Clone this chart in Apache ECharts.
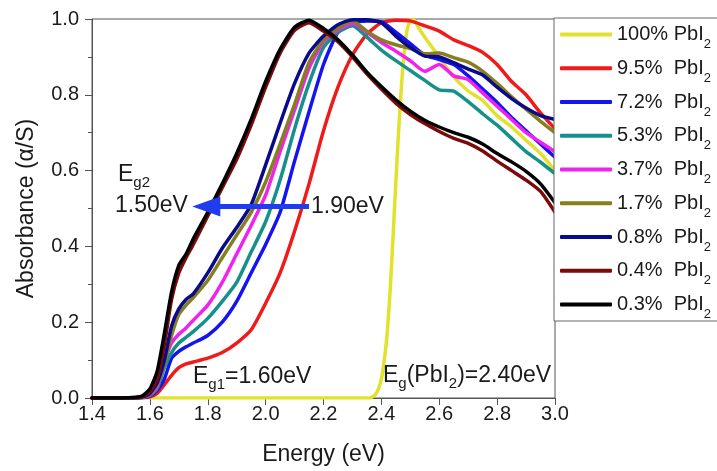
<!DOCTYPE html>
<html lang="en">

<head>
    <meta charset="UTF-8">
    <title>Absorbance vs Energy</title>
    <script src="https://cdn.jsdelivr.net/npm/echarts@6.0.0/dist/echarts.min.js"></script>
    <style>
        body { margin: 0; background: #fff; }
        #container { width: 717px; height: 471px; }
    </style>
</head>

<body>
    <div id="container"></div>
    <script type="text/javascript">
        // energy grid (eV) shared by the perovskite curves
        var energy = [1.40, 1.50, 1.55, 1.575, 1.60, 1.625, 1.65, 1.675, 1.70, 1.725, 1.75, 1.80, 1.85, 1.90, 1.95, 2.00, 2.05, 2.10, 2.15, 2.20,
            2.25, 2.30, 2.35, 2.40, 2.45, 2.50, 2.55, 2.60, 2.65, 2.70, 2.75, 2.80, 2.85, 2.90, 2.95, 3.00];

        var red95 = [0, 0, 0, 0.001, 0.003, 0.012, 0.035, 0.06, 0.08, 0.09, 0.095, 0.105, 0.12, 0.145, 0.18, 0.25, 0.33, 0.44, 0.565, 0.705,
            0.82, 0.905, 0.96, 0.99, 0.997, 0.995, 0.982, 0.968, 0.945, 0.93, 0.912, 0.88, 0.835, 0.8, 0.752, 0.71];
        var blue72 = [0, 0, 0, 0.001, 0.005, 0.02, 0.05, 0.105, 0.123, 0.135, 0.145, 0.165, 0.2, 0.255, 0.33, 0.405, 0.49, 0.625, 0.755, 0.88,
            0.965, 0.99, 0.995, 0.993, 0.965, 0.935, 0.905, 0.893, 0.88, 0.85, 0.815, 0.78, 0.74, 0.705, 0.67, 0.635];
        var teal53 = [0, 0, 0, 0.002, 0.007, 0.025, 0.08, 0.12, 0.145, 0.16, 0.175, 0.21, 0.255, 0.305, 0.385, 0.465, 0.575, 0.71, 0.83, 0.925,
            0.965, 0.982, 0.952, 0.918, 0.89, 0.864, 0.838, 0.813, 0.81, 0.782, 0.75, 0.72, 0.685, 0.65, 0.622, 0.592];
        var magenta37 = [0, 0, 0, 0.002, 0.008, 0.03, 0.095, 0.145, 0.168, 0.185, 0.205, 0.245, 0.305, 0.38, 0.455, 0.535, 0.65, 0.76, 0.87, 0.94,
            0.97, 0.988, 0.965, 0.938, 0.915, 0.89, 0.862, 0.88, 0.85, 0.84, 0.805, 0.77, 0.735, 0.70, 0.675, 0.65];
        var olive17 = [0, 0, 0, 0.002, 0.01, 0.035, 0.09, 0.165, 0.22, 0.245, 0.265, 0.31, 0.37, 0.43, 0.49, 0.57, 0.67, 0.775, 0.885, 0.945,
            0.975, 0.995, 0.968, 0.945, 0.932, 0.922, 0.908, 0.91, 0.898, 0.886, 0.862, 0.83, 0.795, 0.762, 0.73, 0.70];
        var navy08 = [0, 0, 0, 0.003, 0.012, 0.04, 0.1, 0.19, 0.235, 0.26, 0.275, 0.33, 0.395, 0.45, 0.51, 0.615, 0.725, 0.83, 0.91, 0.955,
            0.985, 0.998, 0.998, 0.99, 0.955, 0.925, 0.902, 0.9, 0.885, 0.868, 0.852, 0.82, 0.79, 0.765, 0.745, 0.735];
        var darkred04 = [0, 0, 0.001, 0.004, 0.016, 0.05, 0.14, 0.26, 0.33, 0.37, 0.405, 0.48, 0.555, 0.63, 0.72, 0.82, 0.91, 0.97, 0.99, 0.968,
            0.94, 0.9, 0.855, 0.815, 0.778, 0.748, 0.724, 0.703, 0.685, 0.672, 0.652, 0.625, 0.6, 0.575, 0.545, 0.49];
        var black03 = [0, 0, 0.002, 0.006, 0.024, 0.07, 0.17, 0.28, 0.35, 0.38, 0.42, 0.49, 0.565, 0.645, 0.735, 0.835, 0.92, 0.978, 0.997, 0.975,
            0.945, 0.905, 0.86, 0.822, 0.787, 0.757, 0.733, 0.715, 0.70, 0.688, 0.67, 0.645, 0.623, 0.598, 0.565, 0.515];

        // pure PbI2 has its own, finer grid around the band edge
        var pbi2Energy = [1.40, 2.30, 2.36, 2.38, 2.39, 2.40, 2.41, 2.42, 2.43, 2.44, 2.45, 2.46, 2.47, 2.48, 2.49, 2.50, 2.51, 2.53, 2.55,
            2.60, 2.65, 2.70, 2.75, 2.80, 2.85, 2.90, 2.95, 3.00];
        var pbi2Abs = [0, 0, 0, 0.01, 0.025, 0.05, 0.1, 0.17, 0.28, 0.42, 0.57, 0.71, 0.83, 0.92, 0.975, 0.995, 1.0, 0.975, 0.952,
            0.9, 0.847, 0.81, 0.785, 0.745, 0.715, 0.68, 0.645, 0.6];

        var seriesNames = ['100% PbI2', '9.5%  PbI2', '7.2%  PbI2', '5.3%  PbI2', '3.7%  PbI2', '1.7%  PbI2', '0.8%  PbI2', '0.4%  PbI2', '0.3%  PbI2'];
        var seriesColors = ['#e2e22c', '#ef1a1a', '#1414ee', '#16908a', '#f022f0', '#857f1e', '#0a0a8c', '#7c0a0a', '#000000'];
        var seriesValues = [null, red95, blue72, teal53, magenta37, olive17, navy08, darkred04, black03];

        // arrow Eg2 shift, in data units
        var arrowFrom = [2.15, 0.505];
        var arrowTo = [1.795, 0.505];

        var xTicks = { min: 1.4, max: 3.0, step: 0.2 };
        var yTicks = { min: 0, max: 1.0, step: 0.2 };

        var font = 'Liberation Sans, Arial, sans-serif';
        var ink = '#1a1a1a';

        function pairs(xs, ys) {
            return xs.map(function (x, i) { return [x, ys[i]]; });
        }

        var series = seriesNames.map(function (name, k) {
            var s = {
                name: name,
                type: 'line',
                data: k === 0 ? pairs(pbi2Energy, pbi2Abs) : pairs(energy, seriesValues[k]),
                symbol: 'none',
                showSymbol: false,
                smooth: 0.2,
                lineStyle: { width: 3.5, color: seriesColors[k], join: 'round', cap: 'round' },
                itemStyle: { color: seriesColors[k] },
                animation: false
            };
            if (k === 2) {
                s.markLine = {
                    silent: true,
                    z: 10,
                    symbol: ['none', 'triangle'],
                    symbolSize: [20, 28],
                    label: { show: false },
                    lineStyle: { color: '#1f3cf0', width: 5, type: 'solid' },
                    data: [[{ coord: arrowFrom }, { coord: arrowTo }]],
                    animation: false
                };
            }
            return s;
        });

        var annoRich = {
            m: { fontSize: 23, fontFamily: font, fill: ink, lineHeight: 26 },
            s: { fontSize: 15, fontFamily: font, fill: ink, lineHeight: 16, padding: [16, 0, 0, 0] }
        };

        var dom = document.getElementById('container');
        var myChart = echarts.init(dom);
        var option = {
            backgroundColor: '#fff',
            animation: false,
            grid: { left: 92, right: 162, top: 19, bottom: 72, show: true, borderColor: '#555', borderWidth: 1 },
            legend: {
                orient: 'vertical',
                left: 554,
                top: 18,
                padding: [0, 14, 0, 6],
                itemGap: 0.75,
                itemWidth: 52,
                itemHeight: 4,
                icon: 'roundRect',
                borderColor: '#666',
                borderWidth: 1,
                backgroundColor: '#fff',
                data: seriesNames,
                formatter: function (n) {
                    return '{m|' + n.slice(0, -1) + '}{s|2}';
                },
                textStyle: {
                    color: ink,
                    rich: {
                        m: { fontSize: 20, fontFamily: font, color: ink, lineHeight: 22 },
                        s: { fontSize: 13, fontFamily: font, color: ink, lineHeight: 14, padding: [20, 0, 0, 0] }
                    }
                }
            },
            xAxis: {
                type: 'value',
                min: xTicks.min,
                max: xTicks.max,
                interval: xTicks.step,
                name: 'Energy (eV)',
                nameLocation: 'middle',
                nameGap: 45,
                nameTextStyle: { fontSize: 23, fontFamily: font, color: ink },
                axisLine: { lineStyle: { color: '#555', width: 1 } },
                axisTick: { length: 7, lineStyle: { color: '#555' } },
                axisLabel: {
                    margin: 6, fontSize: 20, fontFamily: font, color: ink,
                    formatter: function (v) { return v.toFixed(1); }
                },
                splitLine: { show: false }
            },
            yAxis: {
                type: 'value',
                min: yTicks.min,
                max: yTicks.max,
                interval: yTicks.step,
                name: 'Absorbance (\u03b1/S)',
                nameLocation: 'middle',
                nameGap: 54,
                nameTextStyle: { fontSize: 23, fontFamily: font, color: ink },
                axisLine: { show: true, lineStyle: { color: '#555', width: 1 } },
                axisTick: { show: true, length: 7, lineStyle: { color: '#555' } },
                minorTick: { show: true, splitNumber: 2, length: 4, lineStyle: { color: '#555' } },
                axisLabel: {
                    margin: 13, fontSize: 20, fontFamily: font, color: ink,
                    formatter: function (v) { return v.toFixed(1); }
                },
                splitLine: { show: false }
            },
            graphic: [
                { type: 'text', x: 118, y: 162, z: 20, style: { text: '{m|E}{s|g2}', rich: annoRich } },
                { type: 'text', x: 115, y: 206, z: 20, style: { text: '1.50eV', font: '23px ' + font, fill: ink, verticalAlign: 'middle' } },
                { type: 'text', x: 311, y: 207, z: 20, style: { text: '1.90eV', font: '23px ' + font, fill: ink, verticalAlign: 'middle' } },
                { type: 'text', x: 193, y: 364, z: 20, style: { text: '{m|E}{s|g1}{m|=1.60eV}', rich: annoRich } },
                { type: 'text', x: 383, y: 363, z: 20, style: { text: '{m|E}{s|g}{m|(PbI}{s|2}{m|)=2.40eV}', rich: annoRich } }
            ],
            series: series
        };

        if (option && typeof option === 'object') {
            myChart.setOption(option);
        }
    </script>
</body>

</html>
